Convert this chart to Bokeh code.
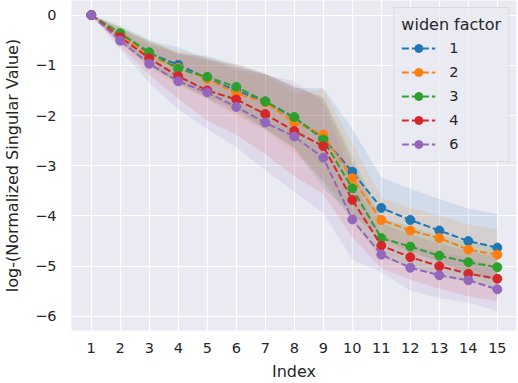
from bokeh.plotting import figure
from bokeh.models import Legend, LegendItem, Range1d, FixedTicker
from bokeh.embed import file_html
from bokeh.resources import INLINE

# ---- data ----
index = [1, 2, 3, 4, 5, 6, 7, 8, 9, 10, 11, 12, 13, 14, 15]
labels = ["1", "2", "3", "4", "6"]
colors = ["#1f77b4", "#ff7f0e", "#2ca02c", "#d62728", "#9467bd"]

mean_1 = [0, -0.40, -0.76, -0.99, -1.26, -1.50, -1.72, -2.05, -2.45, -3.12, -3.84, -4.08, -4.29, -4.50, -4.63]
mean_2 = [0, -0.40, -0.80, -1.05, -1.27, -1.56, -1.74, -2.14, -2.38, -3.25, -4.08, -4.29, -4.44, -4.67, -4.77]
mean_3 = [0, -0.36, -0.74, -1.07, -1.23, -1.43, -1.72, -2.03, -2.48, -3.45, -4.44, -4.61, -4.79, -4.92, -5.02]
mean_4 = [0, -0.44, -0.86, -1.22, -1.50, -1.68, -1.97, -2.31, -2.61, -3.68, -4.59, -4.82, -5.00, -5.15, -5.25]
mean_6 = [0, -0.51, -0.97, -1.32, -1.54, -1.83, -2.14, -2.42, -2.84, -4.07, -4.77, -5.03, -5.18, -5.28, -5.46]

sd_1 = [0, 0.15, 0.25, 0.35, 0.40, 0.45, 0.55, 0.60, 1.00, 0.85, 0.61, 0.62, 0.63, 0.65, 0.67]
sd_2 = [0, 0.15, 0.25, 0.35, 0.40, 0.45, 0.55, 0.60, 0.90, 0.70, 0.45, 0.45, 0.45, 0.50, 0.50]
sd_3 = [0, 0.15, 0.25, 0.30, 0.40, 0.45, 0.55, 0.60, 0.85, 0.65, 0.40, 0.40, 0.40, 0.40, 0.40]
sd_4 = [0, 0.18, 0.33, 0.45, 0.60, 0.70, 0.80, 0.90, 0.95, 0.75, 0.45, 0.45, 0.45, 0.45, 0.45]
sd_6 = [0, 0.18, 0.38, 0.56, 0.73, 0.80, 0.95, 1.10, 1.10, 0.80, 0.35, 0.46, 0.46, 0.45, 0.43]

means = [mean_1, mean_2, mean_3, mean_4, mean_6]
sds = [sd_1, sd_2, sd_3, sd_4, sd_6]

x_ticks = index
y_ticks = [0, -1, -2, -3, -4, -5, -6]
y_tick_labels = ["0", "\u22121", "\u22122", "\u22123", "\u22124", "\u22125", "\u22126"]

FONT = "DejaVu Sans"
TXT = "#262626"

p = figure(width=518, height=383, output_backend="svg", toolbar_location=None,
           x_range=Range1d(0.32, 15.66), y_range=Range1d(-6.28, 0.29),
           min_border_left=70, min_border_right=2, min_border_top=0, min_border_bottom=50)
p.background_fill_color = "#EAEAF2"
p.border_fill_color = "white"
p.outline_line_color = None

for g in (p.xgrid, p.ygrid):
    g.grid_line_color = "white"
    g.grid_line_width = 1.2

p.xaxis.ticker = FixedTicker(ticks=x_ticks)
p.yaxis.ticker = FixedTicker(ticks=y_ticks)
p.yaxis.major_label_overrides = {t: l for t, l in zip(y_ticks, y_tick_labels)}
p.xaxis.axis_label = "Index"
p.yaxis.axis_label = "log-(Normalized Singular Value)"
for ax in (p.xaxis, p.yaxis):
    ax.axis_line_color = None
    ax.major_tick_line_color = None
    ax.minor_tick_line_color = None
    ax.major_label_text_font = FONT
    ax.major_label_text_font_size = "14.5px"
    ax.major_label_text_color = TXT
    ax.axis_label_text_font = FONT
    ax.axis_label_text_font_size = "16px"
    ax.axis_label_text_font_style = "normal"
    ax.axis_label_text_color = TXT
p.yaxis.major_label_standoff = 9
p.xaxis.major_label_standoff = 6
p.yaxis.axis_label_standoff = 10
p.xaxis.axis_label_standoff = 6

items = []
for lab, col, m, s in zip(labels, colors, means, sds):
    lo = [a - b for a, b in zip(m, s)]
    hi = [a + b for a, b in zip(m, s)]
    p.varea(x=index, y1=lo, y2=hi, fill_color=col, fill_alpha=0.12)
for lab, col, m in zip(labels, colors, means):
    lr = p.line(index, m, line_color=col, line_width=2, line_dash="7 3")
    sr = p.scatter(index, m, size=9, fill_color=col, line_color=col)
    items.append(LegendItem(label=lab, renderers=[lr, sr]))

legend = Legend(items=items, title="widen factor", location="top_right", margin=7,
                padding=7, spacing=4, glyph_width=34, glyph_height=20, label_height=20,
                label_standoff=14, title_standoff=4,
                background_fill_color="#EAEAF2", background_fill_alpha=0.8,
                border_line_color="#CCCCCC", border_line_width=1,
                label_text_font=FONT, label_text_font_size="14.5px", label_text_color=TXT,
                title_text_font=FONT, title_text_font_size="16px", title_text_font_style="normal",
                title_text_color=TXT)
p.add_layout(legend)

open("out.html", "w").write(file_html(p, INLINE))
